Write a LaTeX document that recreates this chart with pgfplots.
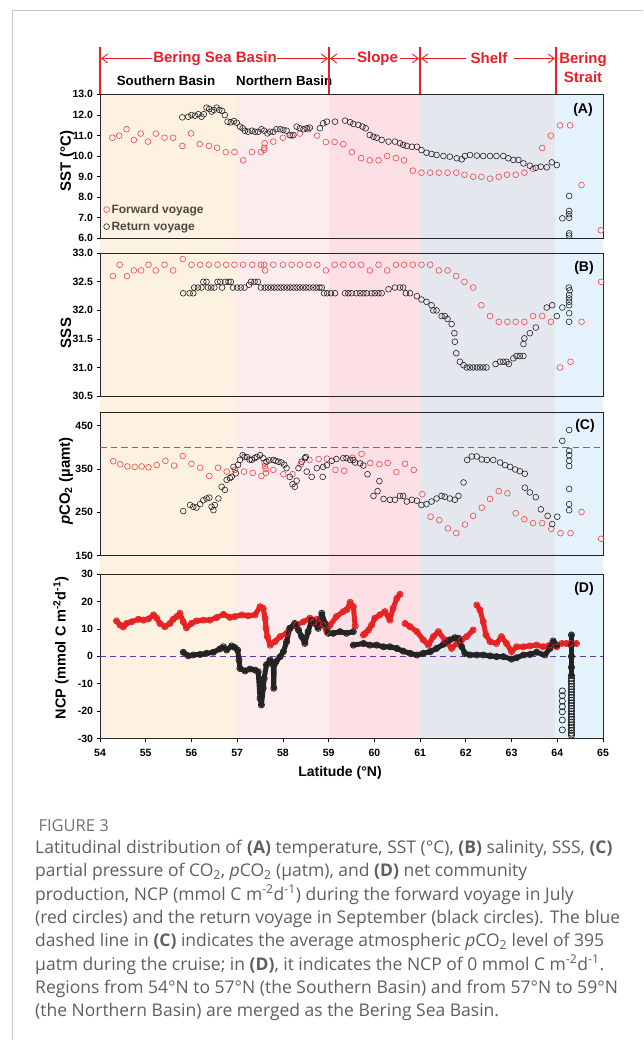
\documentclass[border=0pt]{standalone}
\usepackage{pgfplots}
\pgfplotsset{compat=1.18}
\usepackage{fontspec}
\setmainfont{Liberation Sans}
\newfontfamily\capfont{Open Sans}
\usetikzlibrary{arrows.meta}
\definecolor{bgA}{RGB}{253,242,226}
\definecolor{bgB}{RGB}{253,236,238}
\definecolor{bgC}{RGB}{252,224,229}
\definecolor{bgD}{RGB}{228,231,238}
\definecolor{bgE}{RGB}{228,242,251}
\definecolor{fwd}{RGB}{240,70,70}
\definecolor{fwdD}{RGB}{230,35,35}
\definecolor{ret}{RGB}{35,35,35}
\definecolor{hdr}{RGB}{232,30,40}
\definecolor{purpC}{RGB}{140,80,205}
\definecolor{dashD}{RGB}{105,55,165}
\definecolor{capgray}{RGB}{95,95,95}
\definecolor{legtxt}{RGB}{80,72,64}
\pgfplotsset{
 panel/.style={
  scale only axis, width=503pt, xmin=54, xmax=65, clip=false,
  axis line style={black!85, line width=0.7pt},
  tick style={black, line width=0.7pt},
  tick align=outside, ytick pos=left, xtick pos=bottom,
  major tick length=3.5pt,
  /pgf/number format/assume math mode=true,
  tick label style={font=\fontsize{10.5}{11}\selectfont\bfseries},
 },
 fw/.style={only marks, mark=o, mark size=2.9pt, fwd, mark options={draw=fwd, line width=0.6pt}},
 rt/.style={only marks, mark=o, mark size=2.9pt, ret, mark options={draw=ret, line width=0.6pt}},
 fwline/.style={draw=fwdD, line width=5pt, line join=round, line cap=round, mark=o, mark size=3.1pt, mark options={draw=fwdD, line width=0.8pt, solid}},
 rtline/.style={draw=ret, line width=5pt, line join=round, line cap=round, mark=o, mark size=3.1pt, mark options={draw=ret, line width=0.8pt, solid}},
}
\begin{document}
\begin{tikzpicture}
\useasboundingbox (0pt,0pt) rectangle (643pt,-1040pt);
\draw[black!22, line width=1pt] (12pt,-1040pt) -- (12pt,-11pt) -- (643pt,-11pt);

% background regions
\begin{axis}[at={(100pt,-738.7pt)}, anchor=south west, scale only axis, width=503pt, height=644.4pt,
  xmin=54, xmax=65, ymin=0, ymax=1, hide axis]
\addplot[draw=none, fill=bgA] coordinates {(54,0)(54,1)(57,1)(57,0)} -- cycle;
\addplot[draw=none, fill=bgB] coordinates {(57,0)(57,1)(59,1)(59,0)} -- cycle;
\addplot[draw=none, fill=bgC] coordinates {(59,0)(59,1)(61,1)(61,0)} -- cycle;
\addplot[draw=none, fill=bgD] coordinates {(61,0)(61,1)(63.95,1)(63.95,0)} -- cycle;
\addplot[draw=none, fill=bgE] coordinates {(63.95,0)(63.95,1)(65,1)(65,0)} -- cycle;
\end{axis}

% ---------- Panel A ----------
\begin{axis}[panel, at={(100pt,-238.3pt)}, anchor=south west, height=144pt,
  ymin=6, ymax=13, ytick={6,7,...,13}, xtick=\empty,
  yticklabel style={/pgf/number format/.cd, fixed, fixed zerofill, precision=1},
  legend style={at={(0.005,0.025)}, anchor=south west, draw=none, fill=none,
    font=\fontsize{12}{13}\selectfont\bfseries, text=legtxt, row sep=3pt, inner xsep=1pt, inner ysep=1pt},
  legend cell align=left,
  legend image code/.code={\draw[mark repeat=2,mark phase=2,#1] plot coordinates {(0cm,0cm)(0.2cm,0cm)(0.5cm,0cm)};}]
\addplot[fw] coordinates {
(54.27,10.89)(54.42,10.99)(54.58,11.30)(54.74,10.78)(54.89,11.09)(55.05,10.70)(55.22,11.09)(55.41,10.89)
(55.60,10.89)(55.80,10.49)(55.99,11.10)(56.18,10.58)(56.38,10.49)(56.56,10.40)(56.75,10.19)(56.94,10.19)
(57.13,9.79)(57.32,10.19)(57.52,10.19)(57.59,10.30)(57.59,10.40)(57.60,10.62)(57.79,10.70)(58.00,10.89)
(58.19,10.99)(58.37,11.09)(58.56,11.30)(58.75,10.99)(58.94,10.68)(59.13,10.68)(59.32,10.58)(59.51,10.19)
(59.71,9.90)(59.90,9.79)(60.09,9.79)(60.28,10.00)(60.47,9.90)(60.65,9.79)(60.84,9.29)(61.03,9.19)
(61.22,9.19)(61.41,9.19)(61.60,9.19)(61.79,9.19)(61.97,9.09)(62.16,8.99)(62.34,8.99)(62.53,8.90)
(62.72,8.99)(62.90,9.09)(63.09,9.09)(63.28,9.19)(63.47,9.38)(63.67,10.39)(63.86,10.99)(64.06,11.49)
(64.28,11.49)(64.53,8.59)(64.95,6.39)};
\addlegendentry{Forward voyage}
\addplot[rt] coordinates {
(55.80,11.88)(55.93,11.91)(56.00,11.99)(56.08,11.96)(56.15,12.03)(56.22,11.91)(56.27,12.03)(56.33,12.35)
(56.39,12.29)(56.44,12.16)(56.49,12.24)(56.55,12.35)(56.61,12.24)(56.67,12.19)(56.73,11.99)(56.79,11.67)
(56.86,11.64)(56.93,11.70)(56.99,11.62)(57.06,11.43)(57.12,11.35)(57.17,11.23)(57.24,11.18)(57.32,11.23)
(57.39,11.18)(57.46,11.18)(57.53,11.30)(57.59,11.23)(57.66,11.10)(57.72,11.18)(57.79,11.18)(57.86,11.30)
(57.94,11.30)(58.01,11.27)(58.08,11.23)(58.15,11.02)(58.23,11.02)(58.30,11.43)(58.37,11.35)(58.45,11.30)
(58.52,11.35)(58.59,11.38)(58.81,11.35)(58.88,11.59)(58.96,11.67)(59.14,11.67)(59.36,11.72)(59.47,11.64)
(59.54,11.56)(59.65,11.51)(59.74,11.43)(59.81,11.35)(59.90,11.02)(59.98,10.94)(60.05,10.89)(60.16,10.78)
(60.31,10.70)(60.45,10.70)(60.56,10.62)(60.63,10.54)(60.71,10.49)(60.82,10.45)(60.93,10.45)(61.03,10.29)
(61.14,10.16)(61.25,10.10)(61.36,10.05)(61.51,10.00)(61.65,9.97)(61.80,9.89)(61.91,9.84)(61.98,10.00)
(62.09,10.05)(62.24,10.02)(62.38,10.00)(62.53,10.00)(62.67,10.00)(62.82,10.00)(62.93,9.89)(63.04,9.81)
(63.15,9.81)(63.26,9.64)(63.40,9.53)(63.53,9.43)(63.64,9.48)(63.77,9.45)(63.88,9.69)(63.99,9.56)
(64.11,6.97)(64.26,8.06)(64.26,7.33)(64.26,7.17)(64.26,7.00)(64.26,6.24)(64.26,6.13)};
\addlegendentry{Return voyage}
\end{axis}

% ---------- Panel B ----------
\begin{axis}[panel, at={(100pt,-396pt)}, anchor=south west, height=142.7pt,
  ymin=30.5, ymax=33, ytick={30.5,31,31.5,32,32.5,33}, xtick=\empty,
  yticklabel style={/pgf/number format/.cd, fixed, fixed zerofill, precision=1}]
\addplot[fw] coordinates {
(54.28,32.60)(54.43,32.80)(54.59,32.60)(54.74,32.70)(54.90,32.70)(55.06,32.80)(55.22,32.70)(55.41,32.80)
(55.60,32.70)(55.81,32.90)(56.00,32.80)(56.19,32.80)(56.38,32.80)(56.57,32.80)(56.76,32.80)(56.94,32.80)
(57.13,32.80)(57.33,32.80)(57.52,32.80)(57.59,32.80)(57.61,32.70)(57.79,32.80)(58.00,32.80)(58.19,32.80)
(58.37,32.80)(58.56,32.80)(58.75,32.80)(58.94,32.70)(59.13,32.80)(59.32,32.80)(59.52,32.80)(59.71,32.80)
(59.90,32.70)(60.09,32.80)(60.28,32.70)(60.47,32.80)(60.65,32.80)(60.84,32.80)(61.03,32.80)(61.22,32.80)
(61.41,32.70)(61.60,32.70)(61.79,32.60)(61.97,32.50)(62.16,32.40)(62.34,32.09)(62.53,31.90)(62.72,31.80)
(62.91,31.80)(63.09,31.80)(63.28,31.80)(63.47,31.90)(63.67,31.90)(63.86,31.80)(64.06,31.00)(64.29,31.10)
(64.53,31.80)(64.96,32.50)};
\addplot[rt] coordinates {
(55.82,32.30)(55.96,32.30)(56.04,32.30)(56.06,32.40)(56.14,32.40)(56.22,32.40)(56.26,32.50)(56.33,32.50)
(56.36,32.40)(56.43,32.40)(56.50,32.40)(56.57,32.50)(56.63,32.50)(56.67,32.40)(56.74,32.50)(56.81,32.50)
(56.86,32.50)(56.91,32.40)(57.00,32.40)(57.08,32.40)(57.16,32.40)(57.26,32.45)(57.30,32.50)(57.38,32.50)
(57.45,32.50)(57.52,32.40)(57.60,32.40)(57.67,32.40)(57.74,32.40)(57.81,32.40)(57.88,32.40)(57.95,32.40)
(58.02,32.40)(58.09,32.40)(58.16,32.40)(58.23,32.40)(58.30,32.40)(58.37,32.40)(58.44,32.40)(58.51,32.40)
(58.58,32.40)(58.66,32.40)(58.73,32.40)(58.80,32.40)(58.85,32.40)(58.90,32.30)(58.97,32.30)(59.05,32.30)
(59.14,32.30)(59.36,32.30)(59.43,32.30)(59.50,32.30)(59.61,32.30)(59.69,32.30)(59.76,32.30)(59.83,32.30)
(59.94,32.30)(60.01,32.30)(60.09,32.30)(60.16,32.30)(60.31,32.37)(60.45,32.40)(60.56,32.40)(60.63,32.40)
(60.69,32.30)(60.78,32.30)(60.93,32.25)(61.03,32.19)(61.14,32.15)(61.25,32.09)(61.29,32.00)(61.36,32.00)
(61.47,31.90)(61.54,31.90)(61.60,31.85)(61.69,31.76)(61.75,31.60)(61.76,31.45)(61.79,31.25)(61.87,31.10)
(61.95,31.04)(62.02,31.00)(62.09,31.00)(62.16,31.00)(62.24,31.00)(62.31,31.00)(62.38,31.00)(62.45,31.00)
(62.65,31.06)(62.75,31.10)(62.82,31.10)(62.89,31.10)(62.94,31.06)(63.04,31.16)(63.11,31.20)(63.18,31.20)
(63.26,31.20)(63.26,31.41)(63.28,31.51)(63.40,31.60)(63.53,31.70)(63.77,32.05)(63.89,32.09)(63.99,31.90)
(64.11,32.05)(64.25,32.40)(64.27,32.35)(64.26,32.27)(64.26,32.21)(64.26,32.15)(64.26,32.09)(64.26,31.95)
(64.26,31.80)};
\end{axis}

% ---------- Panel C ----------
\begin{axis}[panel, at={(100pt,-555.7pt)}, anchor=south west, height=143pt,
  ymin=150, ymax=480, ytick={150,250,350,450}, xtick=\empty]
\draw[purpC, line width=1.6pt, dash pattern=on 6.5pt off 4pt] (axis cs:54,400) -- (axis cs:65,400);
\addplot[fw] coordinates {
(54.29,368)(54.44,361)(54.60,356)(54.76,355)(54.91,356)(55.06,354)(55.24,359)(55.43,369)
(55.62,358)(55.81,380)(56.00,362)(56.19,353)(56.39,334)(56.58,353)(56.77,344)(56.95,348)
(57.15,344)(57.34,341)(57.53,334)(57.60,365)(57.61,357)(57.62,350)(57.63,341)(57.79,348)
(58.01,338)(58.21,338)(58.39,361)(58.58,371)(58.78,373)(58.96,374)(59.15,348)(59.34,346)
(59.52,376)(59.72,385)(59.91,364)(60.11,361)(60.29,364)(60.48,343)(60.67,362)(60.86,348)
(61.05,292)(61.23,240)(61.42,232)(61.61,213)(61.79,202)(61.98,222)(62.16,242)(62.35,261)
(62.53,281)(62.72,299)(62.91,294)(63.09,248)(63.28,234)(63.47,225)(63.67,225)(63.87,212)
(64.07,202)(64.29,202)(64.53,251)(64.96,189)};
\addplot[rt] coordinates {
(55.82,253)(55.97,267)(56.04,263)(56.11,261)(56.19,269)(56.26,278)(56.33,282)(56.39,284)
(56.44,263)(56.48,255)(56.51,267)(56.59,282)(56.66,309)(56.73,302)(56.77,325)(56.84,329)
(56.88,332)(56.92,355)(56.97,340)(57.02,360)(57.06,371)(57.12,382)(57.16,378)(57.21,378)(57.27,372)
(57.32,371)(57.38,375)(57.43,378)(57.50,382)(57.57,375)(57.64,367)(57.70,370)(57.79,371)(57.84,369)
(57.90,367)(57.97,365)(58.03,360)(58.08,352)(58.15,332)(58.21,315)(58.26,309)(58.30,323)(58.34,352)
(58.41,367)(58.48,375)(58.50,378)(58.52,344)(58.63,332)(58.74,352)(58.87,332)(58.88,355)(58.96,359)
(59.07,369)(59.17,373)(59.32,375)(59.39,375)(59.47,371)(59.54,371)(59.58,365)(59.69,363)(59.76,358)
(59.85,338)(59.98,288)(60.07,299)(60.11,322)(60.20,281)(60.34,279)(60.45,279)(60.56,288)(60.63,288)
(60.71,275)(60.82,279)(60.93,277)(61.03,267)(61.14,269)(61.25,275)(61.36,282)(61.47,288)(61.54,286)
(61.65,282)(61.76,279)(61.84,288)(61.95,319)(62.03,371)(62.13,379)(62.24,379)(62.35,372)(62.46,371)
(62.60,371)(62.75,365)(62.86,359)(62.97,355)(63.08,349)(63.18,345)(63.29,339)(63.29,307)(63.40,296)
(63.53,285)(63.64,257)(63.79,242)(63.89,223)(64.00,240)(64.11,415)(64.26,440)(64.26,392)(64.26,382)
(64.26,369)(64.26,357)(64.26,304)(64.26,269)(64.26,255)};
\end{axis}

% ---------- Panel D ----------
\begin{axis}[panel, at={(100pt,-738.7pt)}, anchor=south west, height=164.7pt,
  ymin=-30, ymax=30, ytick={-30,-20,...,30}, xtick={54,...,65},
  xticklabel style={yshift=-3.5pt}]
\draw[dashD, line width=1.2pt, dash pattern=on 6pt off 4pt] (axis cs:54,0) -- (axis cs:65,0);
\addplot[fwline] coordinates {
(54.36,12.9)(54.44,11.4)(54.51,10.7)(54.58,12.0)(54.69,12.6)(54.84,13.5)(54.95,13.2)(55.06,13.6)
(55.17,15.1)(55.24,13.9)(55.31,12.0)(55.42,10.8)(55.53,12.0)(55.60,13.5)(55.68,14.5)(55.75,15.7)
(55.82,12.6)(55.89,10.4)(56.00,12.0)(56.11,12.9)(56.26,13.2)(56.40,13.2)(56.55,14.1)(56.70,15.3)
(56.84,14.2)(56.95,14.5)(57.10,15.1)(57.24,14.8)(57.39,15.1)(57.50,18.1)(57.57,17.5)(57.61,13.9)
(57.63,10.2)(57.66,7.2)(57.72,4.1)(57.83,5.4)(57.94,7.2)(58.08,8.4)(58.15,10.2)(58.30,11.4)
(58.45,12.6)(58.59,13.9)(58.67,12.5)(58.74,13.5)(58.80,12.0)(58.88,11.4)(58.96,9.0)(59.03,11.4)
(59.17,14.5)(59.32,16.3)(59.40,17.0)(59.47,19.7)(59.54,18.1)(59.58,11.0)};
\addplot[fwline] coordinates {
(59.76,7.8)(59.80,8.4)(59.87,9.6)(59.94,11.4)(60.01,13.9)(60.12,15.1)(60.23,16.3)(60.34,13.2)
(60.41,17.5)(60.49,21.1)(60.56,22.6)};
\addplot[fwline] coordinates {
(60.67,12.0)(60.78,10.8)(60.93,9.0)(61.07,6.0)(61.18,4.1)(61.29,7.2)(61.40,9.0)(61.54,6.0)
(61.69,2.9)(61.80,4.7)(61.91,6.0)(62.02,7.2)(62.16,9.6)};
\addplot[fwline] coordinates {
(62.24,18.7)(62.31,16.9)(62.38,12.6)(62.44,7.8)(62.53,5.4)(62.67,4.7)(62.78,7.2)(62.89,4.7)
(63.00,1.7)(63.11,3.5)(63.26,3.5)(63.40,3.8)(63.55,4.1)(63.69,3.5)(63.84,4.1)(63.99,3.5)};
\addplot[fwline] coordinates {(64.10,4.7)(64.20,4.7)(64.28,4.7)(64.42,4.7)};
\addplot[rtline] coordinates {
(55.82,1.5)(55.93,0.2)(56.04,0.5)(56.19,0.7)(56.33,1.1)(56.48,1.5)(56.62,2.7)(56.70,3.5)
(56.77,2.3)(56.88,3.8)(56.95,3.2)(57.01,2.3)(57.04,-1.3)(57.06,-4.4)(57.17,-5.3)(57.28,-4.6)
(57.39,-5.0)(57.46,-5.6)(57.50,-15.3)(57.53,-17.7)(57.57,-11.6)(57.59,-8.0)(57.64,-3.1)(57.72,-1.3)
(57.79,-3.1)(57.80,-11.6)(57.81,-3.0)(57.85,-1.9)(57.94,-0.1)(58.01,1.7)(58.08,5.3)(58.15,10.2)
(58.26,12.0)(58.34,9.6)(58.41,7.2)(58.48,4.7)(58.55,9.0)(58.63,13.2)(58.70,12.0)(58.77,10.2)
(58.85,15.7)(58.92,12.0)(58.99,8.4)(59.10,8.4)(59.25,9.0)(59.39,8.4)(59.54,9.0)};
\addplot[rtline] coordinates {
(59.54,4.1)(59.76,4.7)(59.90,4.1)(60.05,4.1)(60.20,3.5)(60.34,3.5)(60.49,2.9)(60.63,1.9)
(60.78,1.1)(60.93,0.5)(61.07,1.1)(61.22,1.7)(61.36,2.9)(61.51,4.4)(61.65,6.0)(61.76,6.8)
(61.84,6.6)(61.91,3.5)(61.98,1.1)(62.09,0.5)(62.24,0.5)(62.38,0.5)(62.53,0.2)(62.67,-0.1)
(62.82,-0.1)(63.00,-1.0)(63.11,-0.5)(63.26,0.5)(63.40,0.7)(63.55,1.5)(63.73,0.5)(63.84,2.9)
(63.91,5.6)(63.99,4.1)};
\addplot[rtline] coordinates {(64.31,7.8)(64.31,4.0)(64.31,0.0)(64.31,-4.0)(64.31,-7.0)};
\addplot[rt, mark size=3.1pt, mark options={draw=ret, line width=0.8pt}] coordinates {
(64.31,-8)(64.31,-9)(64.31,-10)(64.31,-11)(64.31,-12)(64.31,-13)(64.31,-14)(64.31,-15)(64.31,-16)
(64.31,-17)(64.31,-18)(64.31,-19)(64.31,-20)(64.31,-21)(64.31,-22)(64.31,-23)(64.31,-24)(64.31,-25)
(64.31,-26)(64.31,-27)(64.31,-28)(64.31,-28.7)};
\addplot[rt, mark size=3.1pt, mark options={draw=ret, line width=0.7pt}] coordinates {
(64.11,-12.6)(64.11,-14.3)(64.11,-16.3)(64.11,-18.3)(64.11,-20.2)(64.11,-23.2)(64.11,-26.8)};
\end{axis}

% axis labels
\node[rotate=90, font=\fontsize{15}{16}\selectfont\bfseries] at (67pt,-161pt) {SST\,\,(°C)};
\node[rotate=90, font=\fontsize{15}{16}\selectfont\bfseries] at (66pt,-333pt) {SSS};
\node[rotate=90, font=\fontsize{15}{16}\selectfont\bfseries] at (66pt,-481pt) {\textit{p}CO\textsubscript{2} (µamt)};
\node[rotate=90, font=\fontsize{14.5}{16}\selectfont\bfseries] at (61pt,-648pt) {NCP (mmol C m\textsuperscript{-2}d\textsuperscript{-1})};
\node[font=\fontsize{14}{15}\selectfont\bfseries] at (340pt,-773pt) {Latitude (°N)};
\node[font=\fontsize{14}{15}\selectfont\bfseries] at (583pt,-110pt) {(A)};
\node[font=\fontsize{14}{15}\selectfont\bfseries] at (584pt,-268pt) {(B)};
\node[font=\fontsize{14}{15}\selectfont\bfseries] at (585pt,-426pt) {(C)};
\node[font=\fontsize{14}{15}\selectfont\bfseries] at (584pt,-589pt) {(D)};

% header
\foreach \xx in {100,329,420,556} {\draw[hdr, line width=1.7pt] (\xx pt,-47pt) -- (\xx pt,-94.3pt);}
\begin{scope}[hdr, line width=0.9pt]
\draw[{Straight Barb[length=6pt,width=9pt]}-] (101pt,-58.5pt) -- (152pt,-58.5pt);
\draw[-{Straight Barb[length=6pt,width=9pt]}] (277pt,-58.5pt) -- (328pt,-58.5pt);
\draw[{Straight Barb[length=6pt,width=9pt]}-] (330pt,-58.5pt) -- (355pt,-58.5pt);
\draw[-{Straight Barb[length=6pt,width=9pt]}] (400pt,-58.5pt) -- (419pt,-58.5pt);
\draw[{Straight Barb[length=6pt,width=9pt]}-] (421pt,-58.5pt) -- (466pt,-58.5pt);
\draw[-{Straight Barb[length=6pt,width=9pt]}] (514pt,-58.5pt) -- (555pt,-58.5pt);
\end{scope}
\node[text=hdr, font=\fontsize{15}{16}\selectfont\bfseries] at (215pt,-58.5pt) {Bering Sea Basin};
\node[text=hdr, font=\fontsize{15}{16}\selectfont\bfseries] at (377.5pt,-58.5pt) {Slope};
\node[text=hdr, font=\fontsize{15}{16}\selectfont\bfseries] at (489pt,-58.5pt) {Shelf};
\node[text=hdr, font=\fontsize{15}{19}\selectfont\bfseries, align=center, anchor=north] at (583pt,-49pt) {Bering\\Strait};
\node[font=\fontsize{13.3}{14}\selectfont\bfseries] at (166pt,-81pt) {Southern Basin};
\node[font=\fontsize{13.3}{14}\selectfont\bfseries, anchor=west, inner sep=0pt] at (236pt,-81pt) {Northern Basin};
\draw[hdr, line width=1.7pt] (329pt,-70pt) -- (329pt,-94.3pt);

% caption
\node[anchor=west, font=\capfont\fontsize{16.5}{18}\selectfont, text=black!55] at (35pt,-826pt) {FIGURE 3};
\node[anchor=north west, align=left, inner sep=0pt, font=\capfont\fontsize{17.5}{23.3}\selectfont, text=capgray] at (35pt,-840pt) {Latitudinal distribution of \textbf{(A)} temperature, SST (°C), \textbf{(B)} salinity, SSS, \textbf{(C)}\\
partial pressure of CO\textsubscript{2}, \textit{p}CO\textsubscript{2} (µatm), and \textbf{(D)} net community\\
production, NCP (mmol C m\textsuperscript{-2}d\textsuperscript{-1}) during the forward voyage in July\\
(red circles) and the return voyage in September (black circles). The blue\\
dashed line in \textbf{(C)} indicates the average atmospheric \textit{p}CO\textsubscript{2} level of 395\\
µatm during the cruise; in \textbf{(D)}, it indicates the NCP of 0 mmol C m\textsuperscript{-2}d\textsuperscript{-1}.\\
Regions from 54°N to 57°N (the Southern Basin) and from 57°N to 59°N\\
(the Northern Basin) are merged as the Bering Sea Basin.};
\end{tikzpicture}
\end{document}
